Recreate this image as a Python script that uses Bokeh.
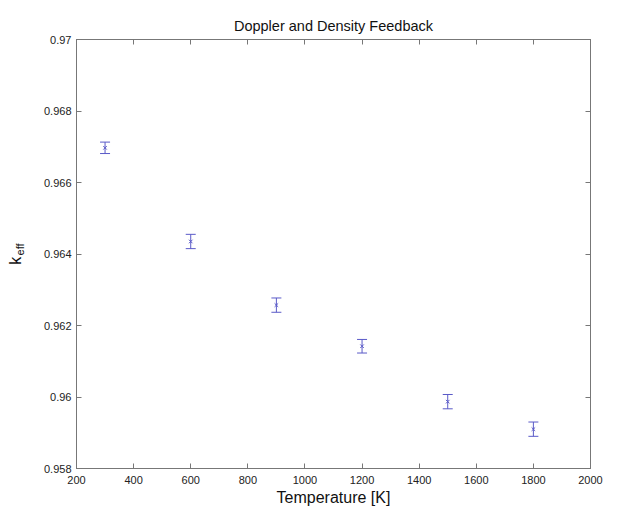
from bokeh.plotting import figure
from bokeh.models import (ColumnDataSource, Whisker, TeeHead, LinearAxis, FixedTicker,
                          CustomJSTickFormatter, Range1d)
from bokeh.embed import file_html
from bokeh.resources import INLINE

# Data
temperature = [300, 600, 900, 1200, 1500, 1800]
keff = [0.96697, 0.96435, 0.96257, 0.96142, 0.95987, 0.95910]
keff_err = [0.00016, 0.00020, 0.00020, 0.00019, 0.00020, 0.00020]
x_ticks = [200, 400, 600, 800, 1000, 1200, 1400, 1600, 1800, 2000]
y_ticks = [0.958, 0.960, 0.962, 0.964, 0.966, 0.968, 0.970]

upper = [k + e for k, e in zip(keff, keff_err)]
lower = [k - e for k, e in zip(keff, keff_err)]
src = ColumnDataSource(dict(x=temperature, y=keff, upper=upper, lower=lower))

FONT = "Liberation Sans"
AXC = "#777777"
MARK = "#5a5ac8"
NB = "\u00a0"

p = figure(width=640, height=508, output_backend="svg", toolbar_location=None,
           x_range=Range1d(200, 2000), y_range=Range1d(0.958, 0.970),
           min_border_left=76, min_border_right=50, min_border_top=39, min_border_bottom=38,
           x_axis_location=None, y_axis_location=None,
           title="Doppler and Density Feedback")
p.title.text_font = FONT
p.title.text_font_size = "14.5px"
p.title.text_font_style = "normal"
p.title.text_color = "#111111"
p.title.align = "center"
p.title.standoff = 11
p.grid.visible = False
p.outline_line_color = AXC
p.outline_line_width = 1
p.background_fill_color = "white"
p.border_fill_color = "white"

fmt = CustomJSTickFormatter(code="return tick.toFixed(3).replace(/0+$/, '');")

def make_axis(show_labels, axis_label=None, formatter=None, ticks=None, standoff=4, label_standoff=0):
    ax = LinearAxis(ticker=FixedTicker(ticks=ticks))
    if formatter is not None:
        ax.formatter = formatter
    ax.axis_line_color = AXC
    ax.major_tick_line_color = AXC
    ax.major_tick_in = 5
    ax.major_tick_out = 0
    ax.minor_tick_line_color = None
    ax.major_label_text_font = FONT
    ax.major_label_text_font_size = "11px"
    ax.major_label_text_color = "#222222"
    ax.major_label_standoff = standoff
    if not show_labels:
        ax.major_label_text_alpha = 0
        ax.major_label_text_font_size = "1px"
    if axis_label:
        ax.axis_label = axis_label
        ax.axis_label_text_font = FONT
        ax.axis_label_text_font_size = "16px"
        ax.axis_label_text_font_style = "normal"
        ax.axis_label_text_color = "#111111"
        ax.axis_label_standoff = label_standoff
    return ax

def label_axis(text, size, standoff):
    # an axis with no ticks, only used to hold a rotated label part
    ax = LinearAxis(ticker=FixedTicker(ticks=[]))
    ax.axis_line_color = None
    ax.major_tick_line_color = None
    ax.minor_tick_line_color = None
    ax.major_label_text_font_size = "1px"
    ax.major_label_standoff = 0
    ax.axis_label = text
    ax.axis_label_orientation = "vertical"
    ax.axis_label_text_font = FONT
    ax.axis_label_text_font_size = size
    ax.axis_label_text_font_style = "normal"
    ax.axis_label_text_color = "#111111"
    ax.axis_label_standoff = standoff
    return ax

p.add_layout(make_axis(True, "Temperature [K]", ticks=x_ticks, standoff=7, label_standoff=2), "below")
p.add_layout(make_axis(True, None, fmt, ticks=y_ticks, standoff=5), "left")
p.add_layout(make_axis(False, ticks=x_ticks), "above")
p.add_layout(make_axis(False, formatter=fmt, ticks=y_ticks), "right")

# y-axis label: "k" with subscript "eff" (non-breaking spaces offset each part)
p.add_layout(label_axis(NB * 3 + "eff", "11px", 15), "left")
p.add_layout(label_axis("k" + NB * 3, "16px", -13), "left")

w = Whisker(source=src, base="x", upper="upper", lower="lower", dimension="height",
            line_color=MARK, line_width=1,
            upper_head=TeeHead(size=10, line_color=MARK, line_width=1),
            lower_head=TeeHead(size=10, line_color=MARK, line_width=1))
p.add_layout(w)
p.scatter("x", "y", source=src, marker="x", size=5, line_color=MARK, line_width=1)

open("out.html", "w").write(file_html(p, INLINE))
